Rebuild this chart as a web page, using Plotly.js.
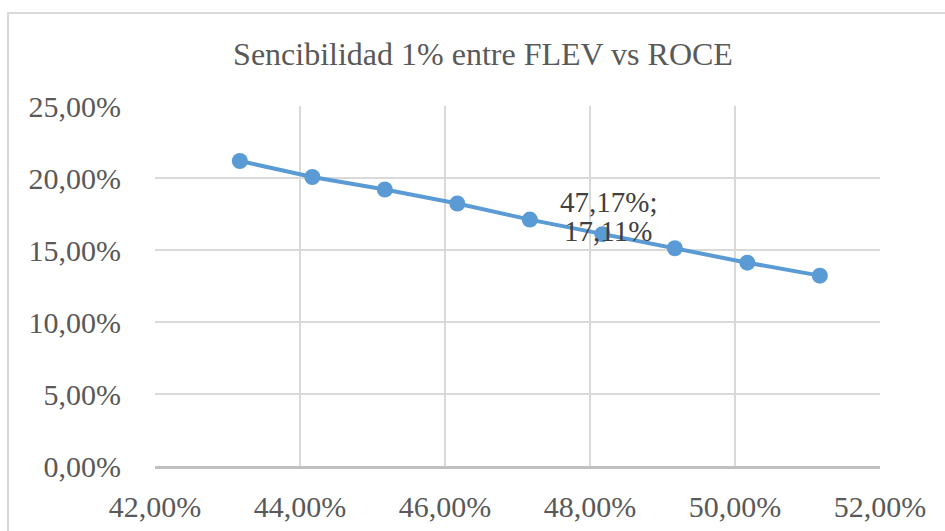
<!DOCTYPE html>
<html>
<head>
<meta charset="utf-8">
<script src="https://cdn.plot.ly/plotly-3.0.1.min.js"></script>
<style>
  html, body { margin: 0; padding: 0; width: 945px; height: 531px; overflow: hidden; background: #ffffff; }
  #frame { position: absolute; left: 7px; top: 12px; width: 950px; height: 540px; border: 2px solid #d9d9d9; box-sizing: border-box; }
  #chart { position: absolute; left: 0; top: 0; width: 945px; height: 531px; }
</style>
</head>
<body>
<div id="frame"></div>
<div id="chart"></div>
<script>
// Data (percent values)
const flev = [43.17, 44.17, 45.17, 46.17, 47.17, 48.17, 49.17, 50.17, 51.17];
const roce = [21.18, 20.07, 19.20, 18.23, 17.11, 16.10, 15.12, 14.12, 13.22];
const xTicks = [42, 44, 46, 48, 50, 52];
const xTickLabels = ["42,00%", "44,00%", "46,00%", "48,00%", "50,00%", "52,00%"];
const yTicks = [0, 5, 10, 15, 20, 25];
const yTickLabels = ["0,00%", "5,00%", "10,00%", "15,00%", "20,00%", "25,00%"];
const chartTitle = "Sencibilidad 1% entre FLEV vs ROCE";
const labelIndex = 4;
const labelLine1 = "47,17%;";
const labelLine2 = "17,11%";

const font = "Liberation Serif";

const trace = {
  x: flev,
  y: roce,
  type: "scatter",
  mode: "lines+markers",
  line: { color: "#5b9bd5", width: 4 },
  marker: { color: "#5b9bd5", size: 16 },
  hoverinfo: "skip",
  cliponaxis: false
};

const layout = {
  width: 945,
  height: 531,
  font: { family: font },
  margin: { l: 155, r: 65, t: 106, b: 65, pad: 0 },
  paper_bgcolor: "rgba(0,0,0,0)",
  plot_bgcolor: "#ffffff",
  showlegend: false,
  title: {
    text: chartTitle,
    font: { family: font, size: 32, color: "#595959" },
    x: 483 / 945,
    xanchor: "center",
    xref: "container",
    y: 1 - 54 / 531,
    yanchor: "middle",
    yref: "container"
  },
  xaxis: {
    range: [42, 52],
    tickmode: "array",
    tickvals: xTicks,
    ticktext: xTickLabels,
    showgrid: true,
    gridcolor: "#d9d9d9",
    gridwidth: 2.5,
    zeroline: false,
    showline: true,
    linecolor: "#bfbfbf",
    linewidth: 2.5,
    ticks: "",
    ticklabelstandoff: 12,
    tickfont: { family: font, size: 30, color: "#595959" },
    fixedrange: true
  },
  yaxis: {
    range: [0, 25],
    tickmode: "array",
    tickvals: yTicks,
    ticktext: yTickLabels,
    showgrid: true,
    gridcolor: "#d9d9d9",
    gridwidth: 2.5,
    zeroline: false,
    showline: false,
    ticks: "",
    ticklabelstandoff: 33,
    tickfont: { family: font, size: 30, color: "#595959" },
    fixedrange: true
  },
  annotations: [
    {
      x: flev[labelIndex], y: roce[labelIndex], xref: "x", yref: "y",
      text: labelLine1, showarrow: false,
      xanchor: "center", yanchor: "middle",
      xshift: 79, yshift: 18,
      font: { family: font, size: 29, color: "#404040" }
    },
    {
      x: flev[labelIndex], y: roce[labelIndex], xref: "x", yref: "y",
      text: labelLine2, showarrow: false,
      xanchor: "center", yanchor: "middle",
      xshift: 78, yshift: -11,
      font: { family: font, size: 29, color: "#404040" }
    }
  ]
};

Plotly.newPlot("chart", [trace], layout, { displayModeBar: false, staticPlot: true });
</script>
</body>
</html>
